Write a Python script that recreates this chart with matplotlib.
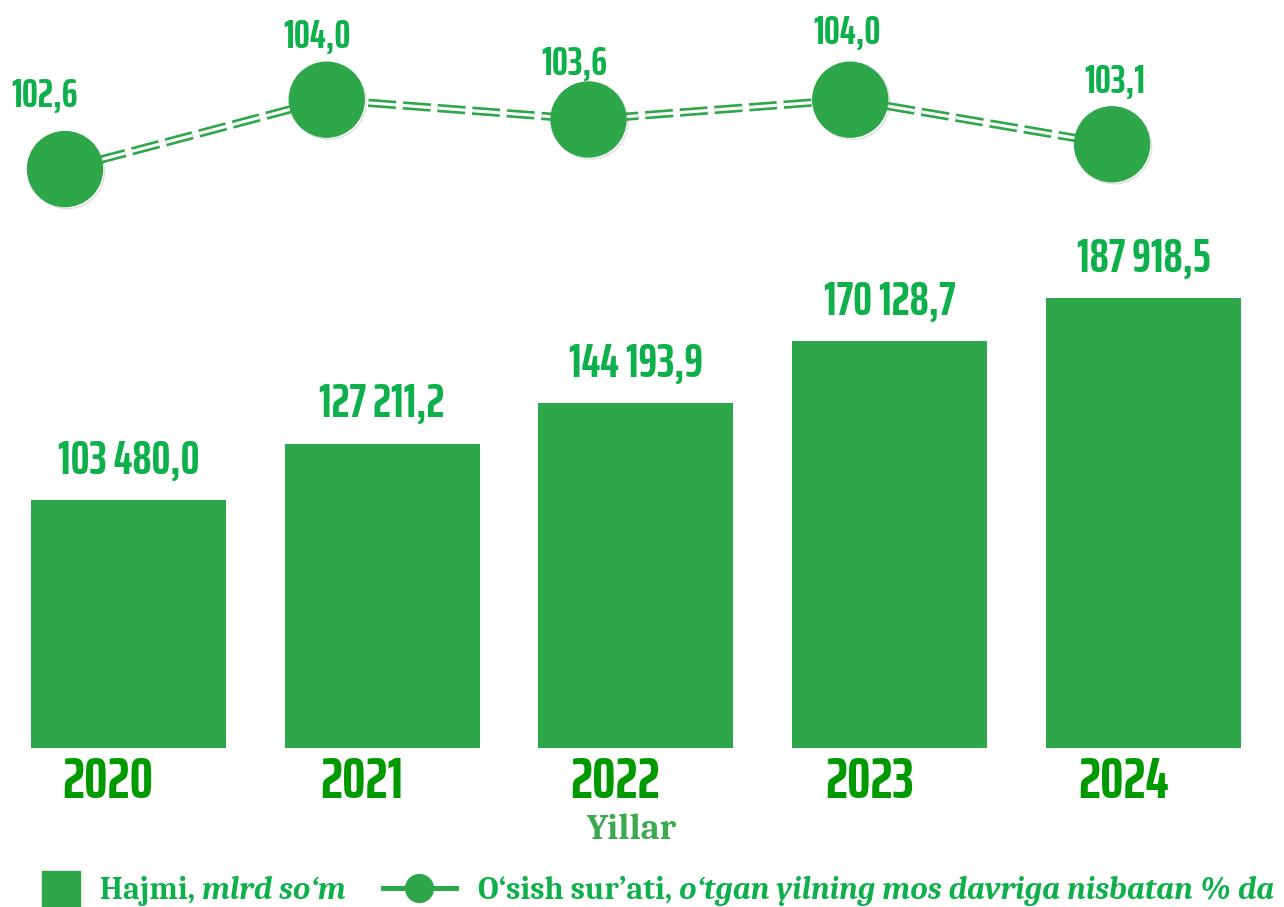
import matplotlib.pyplot as plt
import matplotlib.patheffects as pe
from matplotlib.patches import Rectangle
from matplotlib.lines import Line2D

years = ['2020', '2021', '2022', '2023', '2024']
volume = [103480.0, 127211.2, 144193.9, 170128.7, 187918.5]
growth = [102.6, 104.0, 103.6, 104.0, 103.1]

bar_col = '#2EA64A'
lab_col = '#0DB04B'
year_col = '#009A00'

plt.rcParams['lines.scale_dashes'] = False
num_font = ['Saira ExtraCondensed', 'Saira Extra Condensed', 'Saira SemiCondensed', 'DejaVu Sans']
serif = ['Caladea', 'Liberation Serif', 'DejaVu Serif']

def fmt(v):
    return f"{v:,.1f}".replace(',', ' ').replace('.', ',')

fig = plt.figure(figsize=(12.84, 9.07), dpi=100)

# bars
ax = fig.add_axes([0.00125, 0.1753, 0.988, 0.8247])
x = list(range(len(years)))
ax.bar(x, volume, width=0.768, color=bar_col)
ax.set_xlim(-0.5, 4.5)
ax.set_ylim(0, 312700)
for i, v in zip(x, volume):
    ax.text(i, v + 11000, fmt(v), ha='center', va='baseline', fontsize=34,
            fontweight='bold', color=lab_col, family=num_font)
    ax.text(i - 0.08, -21000, years[i], ha='center', va='baseline', fontsize=42,
            fontweight='bold', color=year_col, family=num_font)
ax.axis('off')

# growth line (double dashed)
ax2 = fig.add_axes([0, 0.7354, 1, 0.2646])
ax2.patch.set_alpha(0)
ax2.set_xlim(-0.2483, 4.657)
ax2.set_ylim(101.17, 106.01)
ax2.plot(x, growth, color=bar_col, lw=6, dashes=(20, 5), zorder=2)
ax2.plot(x, growth, color='white', lw=2.2, dashes=(20, 5), zorder=3)
ax2.plot(x, growth, 'o', color=bar_col, ms=54, zorder=4,
         path_effects=[pe.SimpleLineShadow(offset=(1.5, -1.5), shadow_color='gray', alpha=0.25),
                       pe.Normal()])
offs = [(-14.4, 44.6), (-7.2, 37.4), (-10, 31.7), (-2.2, 40.3), (2.2, 36.7)]
for i, v, o in zip(x, growth, offs):
    ax2.annotate(f"{v:.1f}".replace('.', ','), (i, v), xytext=o, textcoords='offset points',
                 ha='center', va='baseline', fontsize=29, fontweight='bold',
                 color=lab_col, family=num_font)
ax2.axis('off')

# axis title
fig.text(0.492, 0.0755, 'Yillar', ha='center', va='baseline', fontsize=26,
         fontweight='bold', color='#3CA84F', family=serif)

# legend
fig.patches.append(Rectangle((0.0327, -0.002), 0.0296, 0.042, transform=fig.transFigure,
                             color=bar_col))
leg_kw = dict(fontsize=23, fontweight='bold', color=lab_col, family=serif)
t1 = fig.text(0.078, 0.009, 'Hajmi, ', ha='left', va='baseline', **leg_kw)
fig.add_artist(plt.Annotation('mlrd so‘m', xy=(1, 0), xycoords=t1, ha='left', va='bottom',
                              style='italic', **leg_kw))
fig.lines.append(Line2D([0.298, 0.355], [0.021, 0.021], transform=fig.transFigure,
                        color=bar_col, lw=3.6))
fig.lines.append(Line2D([0.3265], [0.021], transform=fig.transFigure, marker='o',
                        ms=20, color=bar_col))
t3 = fig.text(0.372, 0.009, 'O‘sish sur’ati, ', ha='left', va='baseline', **leg_kw)
fig.add_artist(plt.Annotation('o‘tgan yilning mos davriga nisbatan % da', xy=(1, 0),
                              xycoords=t3, ha='left', va='bottom', style='italic', **leg_kw))

fig.savefig('out.png', dpi=100)
